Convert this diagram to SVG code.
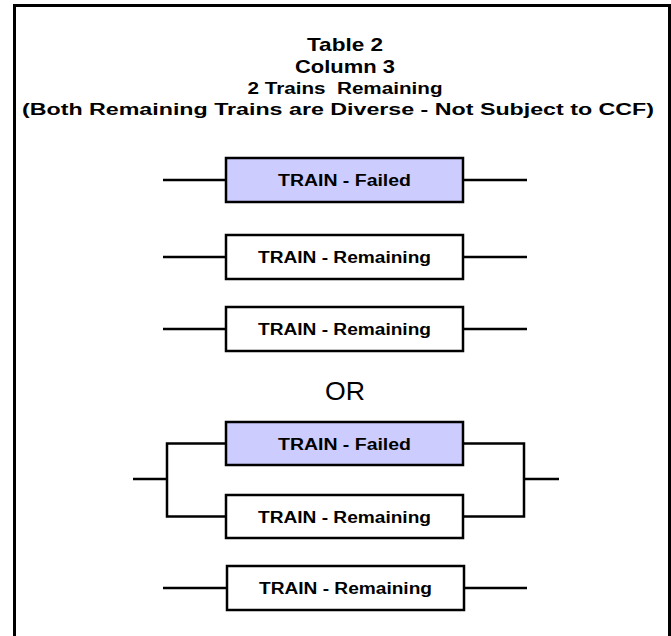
<svg xmlns="http://www.w3.org/2000/svg" width="671" height="636" viewBox="0 0 671 636">
  <style>
    .frame { fill: none; stroke: #000; stroke-width: 3; }
    .box { fill: #fff; stroke: #000; stroke-width: 2.5; }
    .box.failed { fill: #ccccff; }
    .wire { fill: none; stroke: #000; stroke-width: 2.5; }
    .title { font-family: "Liberation Sans", Arial, sans-serif; font-weight: bold; text-anchor: middle; fill: #000; }
    .label { font-family: "Liberation Sans", Arial, sans-serif; font-weight: bold; font-size: 16px; text-anchor: middle; fill: #000; }
    .or { font-family: "Liberation Sans", Arial, sans-serif; font-size: 25px; text-anchor: middle; fill: #000; }
  </style>

  <rect width="671" height="636" fill="#fff"/>

  <!-- outer frame (open at the bottom) -->
  <path class="frame" d="M14.5,640 V5.5 H669.5 V640"/>

  <!-- heading -->
  <g id="heading">
    <text class="title" x="345" y="51" font-size="19" textLength="76" lengthAdjust="spacingAndGlyphs">Table 2</text>
    <text class="title" x="345" y="73" font-size="19" textLength="100" lengthAdjust="spacingAndGlyphs">Column 3</text>
    <text class="title" x="345" y="94" font-size="16" textLength="195" lengthAdjust="spacingAndGlyphs" xml:space="preserve">2 Trains  Remaining</text>
    <text class="title" x="338" y="115" font-size="16" textLength="632" lengthAdjust="spacingAndGlyphs">(Both Remaining Trains are Diverse - Not Subject to CCF)</text>
  </g>

  <!-- connectors -->
  <g id="connectors">
    <!-- series rows -->
    <path class="wire" d="M163,180 H226 M463,180 H527"/>
    <path class="wire" d="M163,257 H226 M463,257 H527"/>
    <path class="wire" d="M163,329 H226 M463,329 H527"/>
    <!-- parallel pair -->
    <path class="wire" d="M226,443.5 H167 V516.5 H226 M133,479 H167"/>
    <path class="wire" d="M463,443.5 H524 V516.5 H463 M524,479 H559"/>
    <!-- last row -->
    <path class="wire" d="M163,588 H227 M464,588 H527"/>
  </g>

  <!-- train blocks -->
  <g id="train-failed-1">
    <rect class="box failed" x="226" y="158" width="237" height="44"/>
    <text class="label" x="344.5" y="186" textLength="133" lengthAdjust="spacingAndGlyphs">TRAIN - Failed</text>
  </g>
  <g id="train-remaining-1">
    <rect class="box" x="226" y="235" width="237" height="44"/>
    <text class="label" x="344.5" y="263" textLength="173" lengthAdjust="spacingAndGlyphs">TRAIN - Remaining</text>
  </g>
  <g id="train-remaining-2">
    <rect class="box" x="226" y="307" width="237" height="44"/>
    <text class="label" x="344.5" y="335" textLength="173" lengthAdjust="spacingAndGlyphs">TRAIN - Remaining</text>
  </g>

  <text class="or" x="345" y="400" textLength="40" lengthAdjust="spacingAndGlyphs">OR</text>

  <g id="train-failed-2">
    <rect class="box failed" x="226" y="422" width="237" height="43"/>
    <text class="label" x="344.5" y="449.5" textLength="133" lengthAdjust="spacingAndGlyphs">TRAIN - Failed</text>
  </g>
  <g id="train-remaining-3">
    <rect class="box" x="226" y="495" width="237" height="43"/>
    <text class="label" x="344.5" y="522.5" textLength="173" lengthAdjust="spacingAndGlyphs">TRAIN - Remaining</text>
  </g>
  <g id="train-remaining-4">
    <rect class="box" x="227" y="566" width="237" height="44"/>
    <text class="label" x="345.5" y="594" textLength="173" lengthAdjust="spacingAndGlyphs">TRAIN - Remaining</text>
  </g>
</svg>
